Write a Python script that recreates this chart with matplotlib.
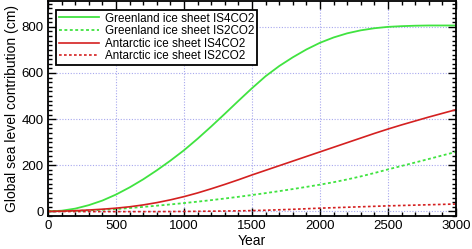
import numpy as np
import matplotlib
matplotlib.use('Agg')
import matplotlib.pyplot as plt
from matplotlib.ticker import MultipleLocator

plt.rcParams['font.family'] = ['Liberation Sans', 'DejaVu Sans']

years = list(range(0, 3001, 100))
greenland_is4 = [0, 3, 12, 27, 47, 73, 104, 139, 178, 220, 265, 315, 368, 423, 479,
                 534, 586, 630, 668, 702, 731, 754, 772, 785, 794, 800, 803, 805,
                 806, 806, 806]
greenland_is2 = [0, 1, 2.5, 4.5, 7, 10, 14.5, 19.5, 24.7, 30.2, 36, 42.2, 48.8, 55.8,
                 63.2, 71, 79.2, 87.8, 96.8, 106.2, 116, 126.5, 138.5, 151.7, 166.3,
                 182, 197, 212, 227.2, 242.6, 258]
antarctic_is4 = [0, 1, 3, 6, 9.5, 14, 20, 28, 38, 50, 64, 80, 98, 117, 137, 158, 178,
                 198, 218, 238, 258, 278, 298, 318, 338, 357, 375, 392, 409, 425, 441]
antarctic_is2 = [0, -0.3, -0.6, -0.9, -1, -1, -1, -1, -0.9, -0.6, -0.2, 0.3, 0.9, 1.6,
                 2.4, 3.4, 5, 7, 9, 11.5, 14, 16, 18, 20, 22, 24, 25.6, 27.2, 28.8,
                 30.4, 32]

green = '#40e340'
red = '#d42020'
dots = (0, (1.6, 1.4))

fig = plt.figure(figsize=(4.72, 2.49), dpi=100)
ax = fig.add_axes([0.1017, 0.1325, 0.8643, 0.8615])

ax.plot(years, greenland_is4, color=green, lw=1.3, label='Greenland ice sheet IS4CO2')
ax.plot(years, greenland_is2, color=green, lw=1.3, ls=dots, label='Greenland ice sheet IS2CO2')
ax.plot(years, antarctic_is4, color=red, lw=1.2, label='Antarctic ice sheet IS4CO2')
ax.plot(years, antarctic_is2, color=red, lw=1.2, ls=dots, label='Antarctic ice sheet IS2CO2')

ax.set_xlim(0, 3000)
ax.set_ylim(-20, 910)
ax.xaxis.set_major_locator(MultipleLocator(500))
ax.xaxis.set_minor_locator(MultipleLocator(100))
ax.yaxis.set_major_locator(MultipleLocator(200))
ax.yaxis.set_minor_locator(MultipleLocator(20))
ax.tick_params(which='both', direction='in', top=True, right=True, width=1.0,
               labelsize=9.5, pad=3)
ax.tick_params(which='major', length=6)
ax.tick_params(which='minor', length=3)
ax.grid(True, which='major', color='#a8a8ee', ls=(0, (1, 1.5)), lw=0.8)
ax.set_axisbelow(True)
for s in ax.spines.values():
    s.set_linewidth(1.3)

ax.set_xlabel('Year', fontsize=10, labelpad=1)
ax.set_ylabel('Global sea level contribution (cm)', fontsize=10, labelpad=2)

leg = ax.legend(loc='upper left', fontsize=8.4, frameon=True, fancybox=False,
                handlelength=3.4, handletextpad=0.5, borderpad=0.25,
                labelspacing=0.05, borderaxespad=0.7)
leg.get_frame().set_edgecolor('black')
leg.get_frame().set_linewidth(1.3)
leg.get_frame().set_alpha(1)

fig.savefig('out.png', dpi=100)
